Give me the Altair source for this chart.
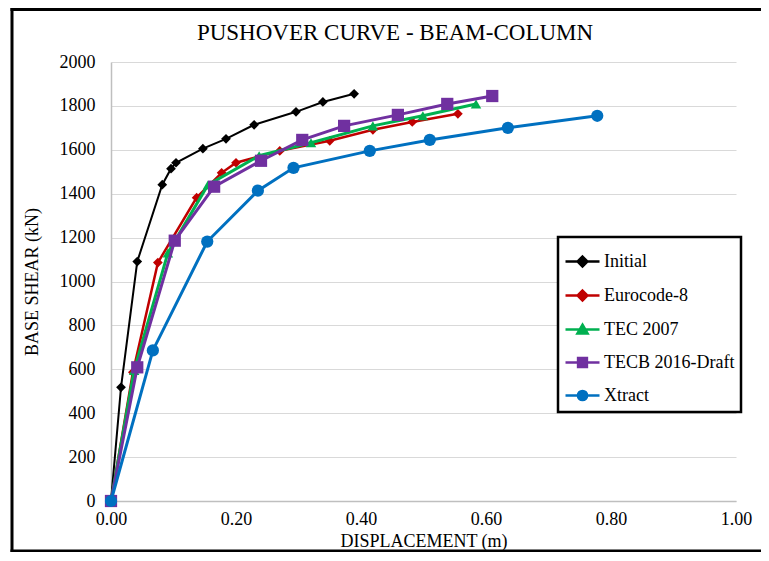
import altair as alt
import pandas as pd

# ---------------- data ----------------
series_names = ["Initial", "Eurocode-8", "TEC 2007", "TECB 2016-Draft", "Xtract"]
series_colors = ["#000000", "#C00000", "#00B050", "#7030A0", "#0070C0"]

initial_x = [0.0, 0.016, 0.042, 0.082, 0.096, 0.104, 0.147, 0.184, 0.229, 0.296, 0.339, 0.389]
initial_y = [0, 518, 1091, 1441, 1514, 1541, 1605, 1650, 1714, 1773, 1818, 1855]

euro_x = [0.0, 0.035, 0.075, 0.137, 0.177, 0.200, 0.270, 0.350, 0.419, 0.482, 0.555]
euro_y = [0, 586, 1086, 1382, 1495, 1541, 1595, 1641, 1691, 1727, 1764]

tec_x = [0.0, 0.037, 0.091, 0.155, 0.237, 0.320, 0.419, 0.499, 0.584]
tec_y = [0, 595, 1130, 1440, 1573, 1632, 1709, 1755, 1809]

tecb_x = [0.0, 0.042, 0.102, 0.165, 0.240, 0.306, 0.373, 0.459, 0.538, 0.610]
tecb_y = [0, 609, 1186, 1432, 1550, 1645, 1709, 1759, 1809, 1845]

xtract_x = [0.0, 0.067, 0.154, 0.235, 0.292, 0.414, 0.510, 0.635, 0.778]
xtract_y = [0, 686, 1182, 1414, 1518, 1595, 1645, 1700, 1755]

x_ticks = [0.0, 0.2, 0.4, 0.6, 0.8, 1.0]
y_ticks = [0, 200, 400, 600, 800, 1000, 1200, 1400, 1600, 1800, 2000]

title_text = "PUSHOVER CURVE - BEAM-COLUMN"
x_title = "DISPLACEMENT (m)"
y_title = "BASE SHEAR (kN)"

# ---------------- table ----------------
all_x = [initial_x, euro_x, tec_x, tecb_x, xtract_x]
all_y = [initial_y, euro_y, tec_y, tecb_y, xtract_y]
rows = []
for name, xs, ys in zip(series_names, all_x, all_y):
    for i, (xv, yv) in enumerate(zip(xs, ys)):
        rows.append({"series": name, "i": i, "disp": xv, "shear": yv})
df = pd.DataFrame(rows)

# styles
marker_shapes = ["diamond", "diamond", "triangle-up", "square", "circle"]
marker_sizes = [95, 95, 110, 150, 150]
line_widths = [2, 2.5, 3, 3, 3]
legend_paths = [
    "M-1,0H1M0,-0.29L0.29,0L0,0.29L-0.29,0Z",
    "M-1,0H1M0,-0.29L0.29,0L0,0.29L-0.29,0Z",
    "M-1,0H1M0,-0.28L0.3,0.24L-0.3,0.24Z",
    "M-1,0H1M-0.26,-0.26H0.26V0.26H-0.26Z",
    "M-1,0H1M-0.27,0A0.27,0.27 0 1,0 0.27,0A0.27,0.27 0 1,0 -0.27,0Z",
]

FONT = "Liberation Serif"
W, H = 625, 439
PAD_L, PAD_T, PAD_R, PAD_B = 103, 54, 25, 52

x_enc = alt.X(
    "disp:Q",
    scale=alt.Scale(domain=[0, 1], nice=False, zero=False),
    axis=alt.Axis(values=x_ticks, format=".2f", title=x_title, grid=False,
                  ticks=False, domainColor="#bfbfbf", domainWidth=1.5,
                  labelFlush=False, labelPadding=9, titlePadding=4),
)
y_enc = alt.Y(
    "shear:Q",
    scale=alt.Scale(domain=[0, 2000], nice=False),
    axis=alt.Axis(values=y_ticks, format="d", title=y_title, grid=True,
                  gridColor="#d9d9d9", gridWidth=1, ticks=False,
                  domainColor="#bfbfbf", domainWidth=1.5, labelFlush=False,
                  labelPadding=16, titlePadding=18),
)

# outer border (left, top, bottom edges) as thin filled bands,
# horizontal bands drawn from the right towards the left edge
one = pd.DataFrame({"k": [0]})
border_top = alt.Chart(one).mark_rect(color="black", strokeWidth=0).encode(
    x=alt.value(650), x2=alt.value(-100.5), y=alt.value(-54), y2=alt.value(-51)
)
border_left = alt.Chart(one).mark_rect(color="black", strokeWidth=0).encode(
    x=alt.value(-100.5), x2=alt.value(-97.5), y=alt.value(-54), y2=alt.value(490)
)
border_bottom = alt.Chart(one).mark_rect(color="black", strokeWidth=0).encode(
    x=alt.value(650), x2=alt.value(-100.5), y=alt.value(487.5), y2=alt.value(490)
)

layers = [border_top, border_left, border_bottom]
for name, c, shp, sz, lw in zip(series_names, series_colors, marker_shapes, marker_sizes, line_widths):
    layers.append(
        alt.Chart(df)
        .transform_filter(alt.datum.series == name)
        .mark_line(
            color=c, strokeWidth=lw,
            point=alt.OverlayMarkDef(filled=True, shape=shp, size=sz, color=c, opacity=1),
        )
        .encode(x=x_enc, y=y_enc, order="i:Q")
    )

# legend layer (no data drawn, only provides the legend)
legend_layer = (
    alt.Chart(df)
    .transform_filter("false")
    .mark_point(filled=True, opacity=1, strokeWidth=2.5)
    .encode(
        x=x_enc,
        y=y_enc,
        fill=alt.Fill("series:N", scale=alt.Scale(domain=series_names, range=series_colors),
                      legend=alt.Legend(title=None)),
        stroke=alt.Stroke("series:N", scale=alt.Scale(domain=series_names, range=series_colors),
                          legend=alt.Legend(title=None)),
        shape=alt.Shape("series:N", scale=alt.Scale(domain=series_names, range=legend_paths),
                        legend=alt.Legend(title=None)),
    )
)
layers.append(legend_layer)

# chart title as text
title_layer = alt.Chart(pd.DataFrame({"t": [title_text]})).mark_text(
    font=FONT, fontSize=23, color="black", align="center", baseline="alphabetic"
).encode(text="t:N", x=alt.value(284), y=alt.value(-22))
layers.append(title_layer)

chart = (
    alt.layer(*layers)
    .properties(
        width=W, height=H,
        padding={"left": PAD_L, "top": PAD_T, "right": PAD_R, "bottom": PAD_B},
        autosize=alt.AutoSizeParams(type="none"),
        background="white",
    )
    .configure(font=FONT)
    .configure_view(stroke=None)
    .configure_axis(
        labelFont=FONT, labelFontSize=18, labelColor="black",
        titleFont=FONT, titleFontSize=18, titleColor="black", titleFontWeight="normal",
    )
    .configure_legend(
        orient="none", legendX=447, legendY=175,
        padding=6, rowPadding=5,
        symbolSize=1156, symbolStrokeWidth=2.5, symbolOpacity=1,
        labelFont=FONT, labelFontSize=18, labelColor="black", labelOffset=3,
        strokeColor="black", strokeWidth=2.5, fillColor="white",
    )
)

chart.save("out.html", embed_options={"renderer": "svg", "actions": False})
